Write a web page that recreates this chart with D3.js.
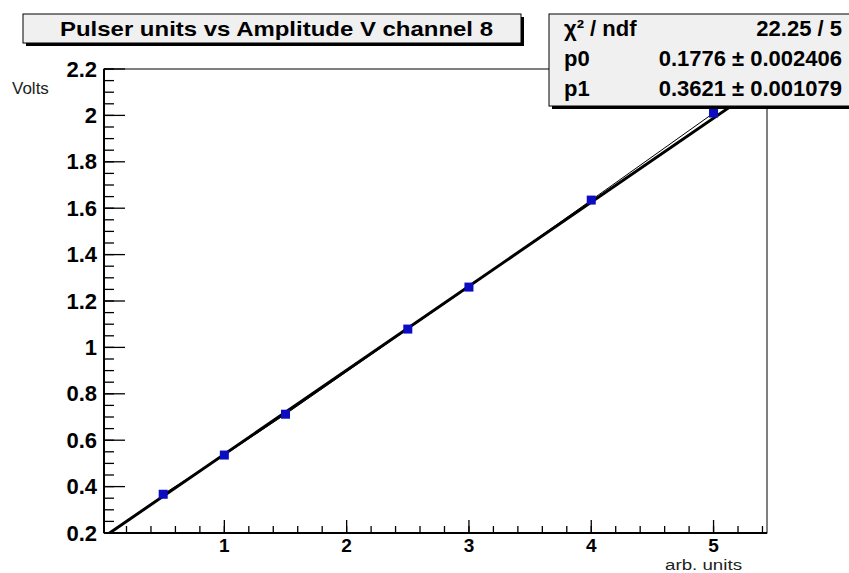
<!DOCTYPE html>
<html>
<head>
<meta charset="utf-8">
<script src="https://cdn.jsdelivr.net/npm/d3@7"></script>
<style>
  body { margin: 0; background: #fff; }
  svg { display: block; font-family: 'Liberation Sans', Arial, sans-serif; }
</style>
</head>
<body>
<div class="wrap"></div>
<script>
// pulser setting (arb. units) and measured amplitude (V)
const pulser = [0.5, 1, 1.5, 2.5, 3, 4, 5];
const volts = [0.367, 0.536, 0.712, 1.079, 1.26, 1.635, 2.01];

// linear fit results
const fitP0 = 0.1776;
const fitP1 = 0.3621;

const statLabels = ['χ² / ndf', 'p0', 'p1'];
const statValues = ['22.25 / 5', '0.1776 ± 0.002406', '0.3621 ± 0.001079'];

const yTicks = [0.2, 0.4, 0.6, 0.8, 1, 1.2, 1.4, 1.6, 1.8, 2, 2.2];
const xTicks = [1, 2, 3, 4, 5];

const width = 849, height = 573;
const frame = { left: 104, right: 767, top: 69, bottom: 533 };

const svg = d3.select('.wrap').append('svg')
  .attr('width', width)
  .attr('height', height);

let x = d3.scaleLinear().domain([0.016, 5.437]).range([frame.left, frame.right]);
let y = d3.scaleLinear().domain([0.2, 2.2]).range([frame.bottom, frame.top]);

svg.append('clipPath').attr('id', 'plot')
  .append('rect')
  .attr('x', frame.left).attr('y', frame.top)
  .attr('width', frame.right - frame.left).attr('height', frame.bottom - frame.top);

// frame (top / right thin)
svg.append('rect')
  .attr('x', frame.left).attr('y', frame.top)
  .attr('width', frame.right - frame.left).attr('height', frame.bottom - frame.top)
  .attr('fill', 'none')
  .attr('stroke', '#000')
  .attr('stroke-width', 1);

// y axis: ticks inward
let yAxis = svg.append('g').attr('transform', `translate(${frame.left},0)`);
yAxis.selectAll('.minor')
  .data(d3.range(0.2, 2.2001, 0.05))
  .enter().append('line')
  .attr('x1', 0).attr('x2', 10)
  .attr('y1', d => y(d)).attr('y2', d => y(d))
  .attr('stroke', '#000').attr('stroke-width', 1.3);
yAxis.selectAll('.major')
  .data(yTicks)
  .enter().append('line')
  .attr('x1', 0).attr('x2', 21)
  .attr('y1', d => y(d)).attr('y2', d => y(d))
  .attr('stroke', '#000').attr('stroke-width', 1.3);
yAxis.selectAll('text')
  .data(yTicks)
  .enter().append('text')
  .attr('x', -7)
  .attr('y', d => y(d) + 7.5)
  .attr('text-anchor', 'end')
  .style('font-size', '22px')
  .style('font-weight', 'bold')
  .text(d => d3.format('~g')(d));
yAxis.append('line')
  .attr('x1', 0).attr('x2', 0).attr('y1', frame.top).attr('y2', frame.bottom)
  .attr('stroke', '#000').attr('stroke-width', 2);

// x axis: ticks inward
let xAxis = svg.append('g').attr('transform', `translate(0,${frame.bottom})`);
xAxis.selectAll('.minor')
  .data(d3.range(0.2, 5.4001, 0.2))
  .enter().append('line')
  .attr('x1', d => x(d)).attr('x2', d => x(d))
  .attr('y1', 0).attr('y2', -7)
  .attr('stroke', '#000').attr('stroke-width', 1.3);
xAxis.selectAll('.major')
  .data(xTicks)
  .enter().append('line')
  .attr('x1', d => x(d)).attr('x2', d => x(d))
  .attr('y1', 0).attr('y2', -13)
  .attr('stroke', '#000').attr('stroke-width', 1.3);
xAxis.selectAll('text')
  .data(xTicks)
  .enter().append('text')
  .attr('x', d => x(d))
  .attr('y', 19)
  .attr('text-anchor', 'middle')
  .style('font-size', '19px')
  .style('font-weight', 'bold')
  .text(d => d);
xAxis.append('line')
  .attr('x1', frame.left).attr('x2', frame.right).attr('y1', 0).attr('y2', 0)
  .attr('stroke', '#000').attr('stroke-width', 2);

// axis titles
svg.append('text')
  .attr('x', 12).attr('y', 94)
  .style('font-size', '17px')
  .attr('fill', '#222')
  .text('Volts');
svg.append('text')
  .attr('x', 742).attr('y', 570)
  .attr('text-anchor', 'end')
  .style('font-size', '14px')
  .attr('textLength', 77)
  .attr('lengthAdjust', 'spacingAndGlyphs')
  .attr('fill', '#222')
  .text('arb. units');

let plot = svg.append('g').attr('clip-path', 'url(#plot)');

// fit line across the full axis range
let fitLine = d3.line()
  .x(d => x(d))
  .y(d => y(fitP0 + fitP1 * d));
plot.append('path')
  .datum(x.domain())
  .attr('d', fitLine)
  .attr('fill', 'none')
  .attr('stroke', '#000')
  .attr('stroke-width', 3);

// graph polyline
let graphLine = d3.line()
  .x((d, i) => x(pulser[i]))
  .y(d => y(d));
plot.append('path')
  .datum(volts)
  .attr('d', graphLine)
  .attr('fill', 'none')
  .attr('stroke', '#000')
  .attr('stroke-width', 1);

// points
plot.selectAll('rect.pt')
  .data(volts)
  .enter().append('rect')
  .attr('class', 'pt')
  .attr('x', (d, i) => x(pulser[i]) - 4.5)
  .attr('y', d => y(d) - 4.5)
  .attr('width', 9).attr('height', 9)
  .attr('fill', '#0c0cc0');

// title box
let tb = { x: 23, y: 14, w: 498, h: 29 };
svg.append('rect')
  .attr('x', tb.x + 3).attr('y', tb.y + 3)
  .attr('width', tb.w).attr('height', tb.h)
  .attr('fill', '#000');
svg.append('rect')
  .attr('x', tb.x).attr('y', tb.y)
  .attr('width', tb.w).attr('height', tb.h)
  .attr('fill', '#f0f0f0')
  .attr('stroke', '#000').attr('stroke-width', 1);
svg.append('text')
  .attr('x', 60).attr('y', 36)
  .attr('textLength', 433)
  .attr('lengthAdjust', 'spacingAndGlyphs')
  .style('font-size', '21px')
  .style('font-weight', 'bold')
  .text('Pulser units vs Amplitude V channel 8');

// stats box
let sb = { x: 549, y: 14, w: 310, h: 92 };
svg.append('rect')
  .attr('x', sb.x + 3).attr('y', sb.y + 3)
  .attr('width', sb.w).attr('height', sb.h)
  .attr('fill', '#000');
svg.append('rect')
  .attr('x', sb.x).attr('y', sb.y)
  .attr('width', sb.w).attr('height', sb.h)
  .attr('fill', '#f0f0f0')
  .attr('stroke', '#000').attr('stroke-width', 1);
let rowY = [36, 66, 96];
svg.selectAll('text.slab')
  .data(statLabels)
  .enter().append('text')
  .attr('class', 'slab')
  .attr('x', 564)
  .attr('y', (d, i) => rowY[i])
  .style('font-size', '22px')
  .style('font-weight', 'bold')
  .text(d => d);
svg.selectAll('text.sval')
  .data(statValues)
  .enter().append('text')
  .attr('class', 'sval')
  .attr('x', 842)
  .attr('y', (d, i) => rowY[i])
  .attr('text-anchor', 'end')
  .style('font-size', '22px')
  .style('font-weight', 'bold')
  .text(d => d);
</script>
</body>
</html>
